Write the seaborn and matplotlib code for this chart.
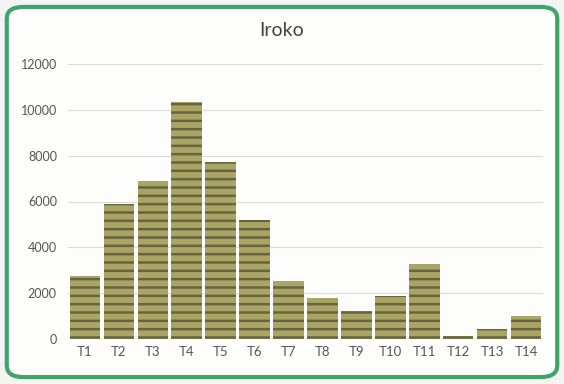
import matplotlib
matplotlib.use("Agg")
import matplotlib.pyplot as plt
import seaborn as sns
import pandas as pd
from matplotlib.patches import FancyBboxPatch

categories = ["T1", "T2", "T3", "T4", "T5", "T6", "T7", "T8", "T9", "T10", "T11", "T12", "T13", "T14"]
values = [2750, 5900, 6900, 10350, 7730, 5200, 2530, 1790, 1220, 1880, 3270, 130, 440, 1000]
yticks = [0, 2000, 4000, 6000, 8000, 10000, 12000]
title = "Iroko"

sns.set_theme(style="white")
plt.rcParams['font.family'] = ['Lato', 'DejaVu Sans']
plt.rcParams['hatch.linewidth'] = 1.8

df = pd.DataFrame({"cat": categories, "val": values})

fig = plt.figure(figsize=(5.64, 3.84), dpi=100)
fig.patch.set_facecolor("#f4f4f2")
border = FancyBboxPatch((0.012, 0.018), 0.976, 0.964, boxstyle="round,pad=0,rounding_size=0.03",
                        transform=fig.transFigure, facecolor="#fdfdfc", edgecolor="#3da56b",
                        linewidth=3, zorder=-10)
fig.patches.append(border)

ax = fig.add_axes([68/564, 1 - 339/384, (543-68)/564, (339-64)/384])
ax.set_facecolor("none")
sns.barplot(data=df, x="cat", y="val", ax=ax, color="#aaa564", width=0.9,
            saturation=1, linewidth=0, zorder=3)
for p in ax.patches:
    p.set_hatch("--")
    p.set_edgecolor("#66653f")
    p.set_linewidth(0)

ax.set_ylim(0, 12000)
ax.set_yticks(yticks)
ax.set_yticklabels([str(v) for v in yticks], fontsize=9, color="#555555")
ax.set_xlabel("")
ax.set_ylabel("")
ax.tick_params(axis="x", labelsize=9.5, colors="#555555", length=0, pad=5)
ax.tick_params(axis="y", length=0, pad=8)
ax.grid(axis="y", color="#d9d9d9", linewidth=0.8, zorder=0)
for s in ax.spines.values():
    s.set_visible(False)
ax.axhline(0, color="#d0d0d0", linewidth=0.8, zorder=2)

fig.text(0.5, 1 - 30/384, title, ha="center", va="center", fontsize=14, color="#444444")

fig.savefig("out.png", dpi=100)
